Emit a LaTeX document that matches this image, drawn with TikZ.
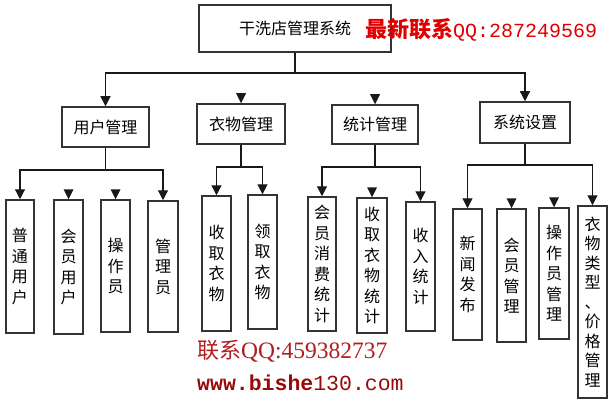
\documentclass[tikz,border=0pt]{standalone}
\usepackage{fontspec}
\newfontfamily\cjk{Noto Sans CJK SC}
\newfontfamily\monofnt{Liberation Mono}
\newfontfamily\seriffnt{Liberation Serif}
\usetikzlibrary{arrows.meta}
\definecolor{topred}{RGB}{225,0,0}
\definecolor{qqred}{RGB}{175,30,30}
\definecolor{wwwred}{RGB}{150,10,10}
\newcommand\orphantip[1]{\fill[black!90] ([xshift=-5pt,yshift=10pt]#1) -- ([xshift=5pt,yshift=10pt]#1) -- (#1) -- cycle;}
\begin{document}
\begin{tikzpicture}[x=1pt,y=-1pt,
  box/.style={draw=black!80, line width=1.5pt, inner sep=0pt, align=center,
    font=\cjk\fontsize{16}{20.5}\selectfont},
  conn/.style={draw=black!90, line width=1.2pt, -{Triangle[width=10pt,length=10pt]}},
  plain/.style={draw=black!90, line width=1.2pt}]
\useasboundingbox (0,0) rectangle (614,404);
% top
\node[box, minimum width=192pt, minimum height=47pt] (top) at (295,28.5) {干洗店管理系统};
% second level
\node[box, minimum width=87pt, minimum height=40pt] (yh) at (105.5,127) {用户管理};
\node[box, minimum width=88pt, minimum height=40pt] (yw) at (241,124) {衣物管理};
\node[box, minimum width=86pt, minimum height=39pt] (tj) at (375,124.5) {统计管理};
\node[box, minimum width=90pt, minimum height=41pt] (xt) at (525,122.5) {系统设置};
% third level
\node[box, minimum width=28pt, minimum height=133pt] (pt) at (20,266.5) {普\\通\\用\\户};
\node[box, minimum width=29pt, minimum height=134pt] (hy) at (68.5,267) {会\\员\\用\\户};
\node[box, minimum width=29pt, minimum height=132pt] (czy) at (115.5,266) {操\\作\\员};
\node[box, minimum width=30pt, minimum height=131pt] (gly) at (163,266.5) {管\\理\\员};
\node[box, minimum width=29pt, minimum height=135pt] (sq) at (216.5,263.5) {收\\取\\衣\\物};
\node[box, minimum width=29pt, minimum height=134pt] (lq) at (262.5,262) {领\\取\\衣\\物};
\node[box, minimum width=28pt, minimum height=134pt] (hyxf) at (322,264) {会\\员\\消\\费\\统\\计};
\node[box, minimum width=30pt, minimum height=135pt] (sqtj) at (372,265.5) {收\\取\\衣\\物\\统\\计};
\node[box, minimum width=29pt, minimum height=129pt] (srtj) at (420.5,266.5) {收\\入\\统\\计};
\node[box, minimum width=29pt, minimum height=131pt] (xw) at (467.5,274.5) {新\\闻\\发\\布};
\node[box, minimum width=29pt, minimum height=133pt] (hygl) at (511.5,275.5) {会\\员\\管\\理};
\node[box, minimum width=30pt, minimum height=131pt] (czygl) at (554,273.5) {操\\作\\员\\管\\理};
\node[box, minimum width=29pt, minimum height=192pt, font=\cjk\fontsize{16}{19.5}\selectfont] (lx) at (592.5,302) {衣\\物\\类\\型\\、\\价\\格\\管\\理};
% junctions
\coordinate (j0) at (295,73);
\coordinate (j1) at (105.5,170);
\coordinate (j2) at (241,167);
\coordinate (j3) at (375,167);
\coordinate (j4) at (525,165);
% connectors
\draw[plain] (top.south) -- (j0);
\draw[conn] (j0) -| (yh.north);
\draw[conn] (j0) -| (xt.north);
\draw[plain] (yh.south) -- (j1);
\draw[conn] (j1) -| (pt.north);
\draw[conn] (j1) -| (gly.north);
\draw[plain] (yw.south) -- (j2);
\draw[conn] (j2) -| (sq.north);
\draw[conn] (j2) -| (lq.north);
\draw[plain] (tj.south) -- (j3);
\draw[conn] (j3) -| (hyxf.north);
\draw[conn] (j3) -| (srtj.north);
\draw[plain] (xt.south) -- (j4);
\draw[conn] (j4) -| (xw.north);
\draw[conn] (j4) -| (lx.north);
% lone arrowheads
\orphantip{yw.north}
\orphantip{tj.north}
\orphantip{hy.north}
\orphantip{czy.north}
\orphantip{sqtj.north}
\orphantip{hygl.north}
\orphantip{czygl.north}
% red texts
\node[anchor=west, inner sep=0pt, text=topred] (qq1) at (365,30)
  {{\cjk\bfseries\fontsize{22}{22}\selectfont 最新联系}{\monofnt\fontsize{20}{20}\selectfont QQ:287249569}};
\node[anchor=west, inner sep=0pt, text=qqred] (qq2) at (197,351)
  {{\cjk\fontsize{22}{22}\selectfont 联系}{\seriffnt\fontsize{23.5}{23.5}\selectfont QQ:459382737}};
\node[anchor=west, inner sep=0pt, text=wwwred] (www) at (197,383)
  {\monofnt\fontsize{21.5}{21.5}\selectfont\bfseries www.bishe\mdseries 130.com};
\end{tikzpicture}
\end{document}
